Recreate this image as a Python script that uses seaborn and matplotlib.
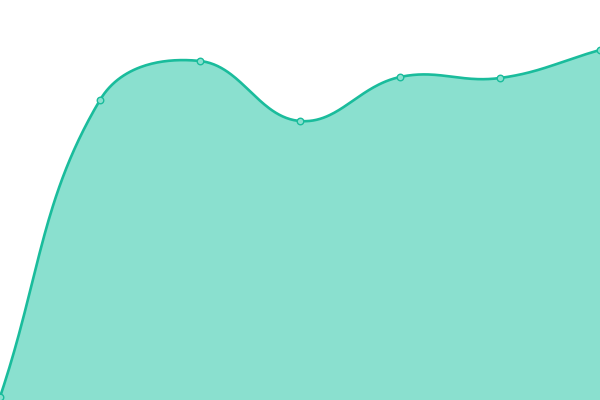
import numpy as np
import pandas as pd
import seaborn as sns
import matplotlib.pyplot as plt

# data (x positions and values, 0 = bottom edge)
x_vals = [0, 100, 200, 300, 400, 500, 600]
y_vals = [3, 300, 339, 279, 323, 322, 350]

line_color = "#1abc9c"
fill_color = "#8ae0cf"


def tension_spline(xs, ys, tension=0.4, steps=60):
    # bezier curve through the points, control points set like a chart.js line
    p = np.column_stack([xs, ys]).astype(float)
    n = len(p)
    c_prev = p.copy()
    c_next = p.copy()
    for i in range(n):
        prev = p[max(i - 1, 0)]
        nxt = p[min(i + 1, n - 1)]
        d01 = np.hypot(*(p[i] - prev))
        d12 = np.hypot(*(nxt - p[i]))
        tot = d01 + d12
        fa = tension * d01 / tot if tot else 0
        fb = tension * d12 / tot if tot else 0
        c_prev[i] = p[i] - fa * (nxt - prev)
        c_next[i] = p[i] + fb * (nxt - prev)
    t = np.linspace(0, 1, steps)[:, None]
    segs = []
    for i in range(n - 1):
        b = ((1 - t) ** 3 * p[i] + 3 * (1 - t) ** 2 * t * c_next[i]
             + 3 * (1 - t) * t ** 2 * c_prev[i + 1] + t ** 3 * p[i + 1])
        segs.append(b)
    out = np.vstack(segs)
    return out[:, 0], out[:, 1]


sx, sy = tension_spline(x_vals, y_vals)
curve = pd.DataFrame({"x": sx, "y": sy})
points = pd.DataFrame({"x": x_vals, "y": y_vals})

sns.set_style("white")
fig = plt.figure(figsize=(6, 4), dpi=100)
ax = fig.add_axes([0, 0, 1, 1])

ax.fill_between(sx, sy, 0, color=fill_color, linewidth=0)
sns.lineplot(data=curve, x="x", y="y", ax=ax, color=line_color, linewidth=1.9, sort=False)
sns.scatterplot(data=points, x="x", y="y", ax=ax, s=22, color=fill_color,
                edgecolor=line_color, linewidth=1, zorder=5, clip_on=False)

ax.set_xlim(0, 600)
ax.set_ylim(0, 400)
ax.axis("off")

fig.savefig("out.png", dpi=100)
